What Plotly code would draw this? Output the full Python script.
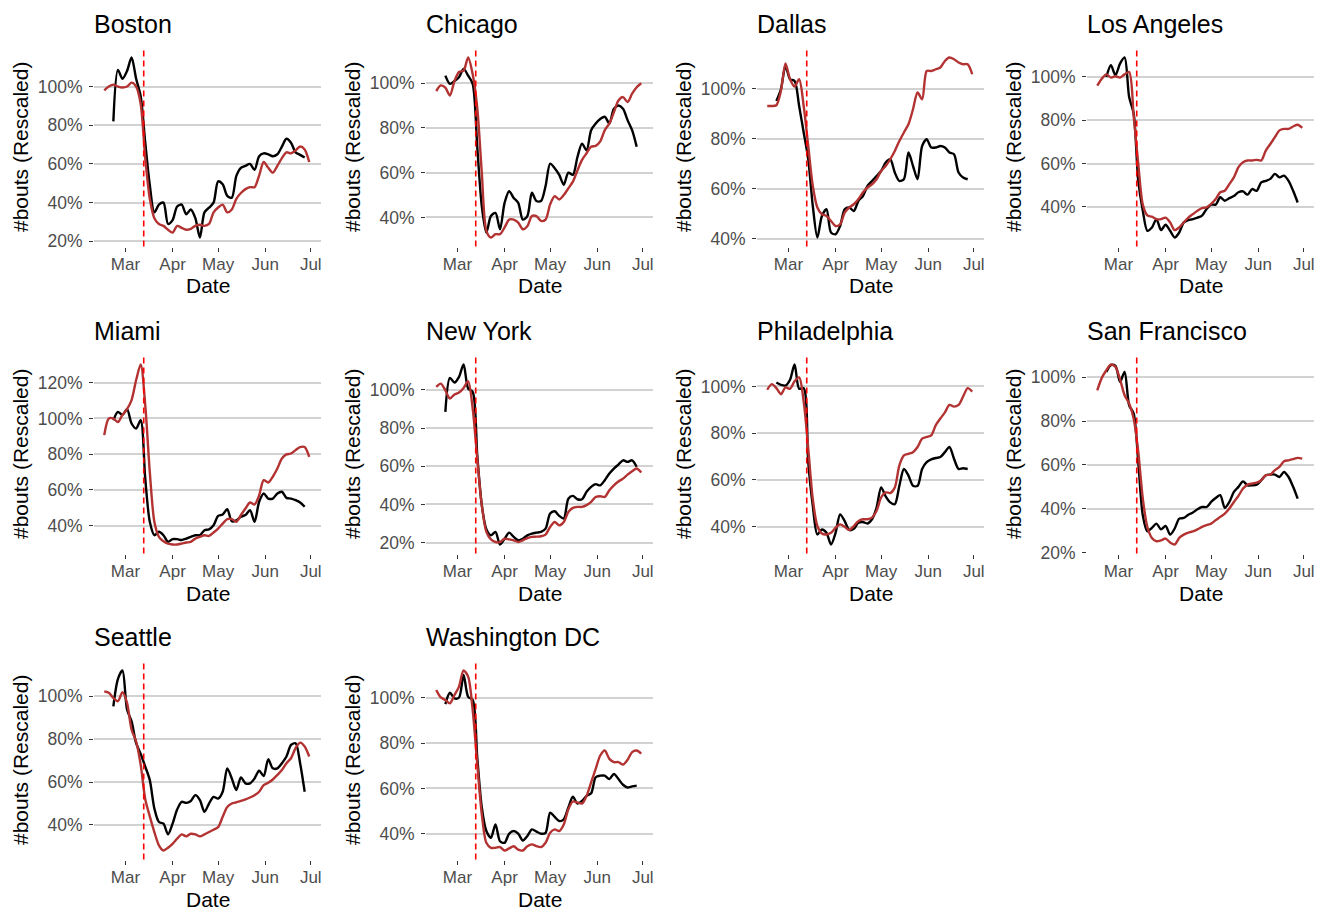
import pandas as pd
import plotly.graph_objects as go

# ---------------- data ----------------
DATES = pd.date_range("2020-02-16", periods=46, freq="3D")
VLINE_DATE = "2020-03-13"
MONTH_TICKS = ["2020-03-01", "2020-04-01", "2020-05-01", "2020-06-01", "2020-07-01"]
MONTH_LABELS = ["Mar", "Apr", "May", "Jun", "Jul"]

CITIES = ["Boston", "Chicago", "Dallas", "Los Angeles", "Miami",
          "New York", "Philadelphia", "San Francisco", "Seattle", "Washington DC"]

BOSTON_RED = [98, 100, 101, 100, 99.5, 100, 102, 100, 91, 63, 42, 32, 29, 28, 26, 24.5,
              28, 27, 26, 26.5, 28, 28.6, 28, 29, 35, 37.5, 39, 35, 36.5, 42, 45, 47,
              48, 48, 54, 61, 58, 55.5, 59, 63, 66, 65.5, 67, 69, 67.5, 61]
BOSTON_BLACK = [None, None, 82, 108.6, 104, 108, 115, 104, 95, 71, 49, 35, 39, 40, 29, 31,
                38, 39, 34, 36.5, 32, 22, 35, 37.4, 40, 51, 49.5, 43.5, 42.6, 53.8, 58, 59,
                60, 57, 64, 65.5, 65, 64, 65, 69, 73, 71, 66, 64.7, 63.3, None]

CHICAGO_RED = [96.5, 99, 98, 94.5, 101, 105, 105.6, 111.5, 104, 89, 60, 34, 31, 32.5, 32.5, 35.5,
               39, 39, 37.7, 34.7, 36, 40.6, 40.6, 38.4, 39, 45.8, 49.5, 48, 50, 53, 56, 61,
               65.7, 68.7, 71.6, 72, 74, 79, 82, 87, 92.3, 93.8, 91.6, 95.3, 98.2, 100]
CHICAGO_BLACK = [None, None, 103.4, 99.7, 101, 102.7, 106.4, 103.4, 99.7, 71.6, 45, 33.2, 40.6, 42, 34.7, 46.5,
                 51.7, 48.7, 46.5, 39, 40.6, 51, 47.3, 47.3, 54, 64, 62, 59, 54.6, 60, 59, 67,
                 73, 70, 79, 82, 84, 85, 82, 88.6, 90, 88.6, 83.5, 79, 71.6, None]

DALLAS_RED = [93, 93, 93.3, 99, 110, 103.7, 100.8, 103.7, 93, 77, 61, 52.4, 49.7, 49, 47, 45,
              45.7, 50.4, 52.4, 53.7, 55.7, 58.4, 60.4, 61.7, 63.7, 67, 69, 71.7, 75, 79, 82.4, 85.7,
              91.7, 98.4, 95.7, 107, 107, 107.7, 108.4, 111, 112.4, 111.7, 110.4, 109.7, 109.7, 105.7]
DALLAS_BLACK = [None, None, 95, 99.7, 109, 103.7, 103, 93, 82.4, 71.7, 53, 40.4, 49, 51.7, 42.4, 41.7,
                45, 51.7, 52.4, 51, 55, 57, 61, 63, 65, 67, 70.4, 71.7, 66.4, 63, 63.7, 74.4,
                69, 63.7, 77, 79.7, 76.4, 76.4, 77, 76.4, 74.4, 73.7, 66.4, 64.4, 63.7, None]

LA_RED = [96, 99.2, 101.2, 99.7, 100.3, 99.7, 101.2, 102.3, 82, 60, 41, 36, 35.4, 34.3, 34.3, 35,
          32.8, 29.2, 30.5, 32.8, 35, 36.6, 38.2, 39.4, 39.7, 41.3, 43.6, 46.7, 47.4, 50.5, 53.6, 58.3,
          60.6, 61.4, 61.4, 61.7, 61.4, 66, 69, 72.2, 75.3, 76, 76, 77.1, 77.9, 76.5]
LA_BLACK = [None, None, 100, 105.4, 100.8, 106.2, 109, 90.7, 83, 52, 38.2, 28.9, 30.4, 34.3, 29.2, 31.7,
            28.9, 25.8, 28.1, 32.8, 33.8, 34.3, 35, 35.9, 39, 41, 41, 44.4, 42.8, 44, 45, 46.7,
            47.1, 45.6, 48.2, 47.4, 51.3, 52, 52.9, 55.2, 53.6, 54.4, 52, 47.4, 42, None]

MIAMI_RED = [90.7, 100, 100, 98, 102, 105.2, 110.3, 121.5, 130.2, 107.5, 70, 42.2, 33.8, 31.3, 30, 29.5,
             29.5, 30, 30.6, 31, 32.8, 33.8, 34.7, 34.3, 36.2, 38.4, 41.2, 43.7, 43.7, 42.2, 46, 49.6,
             53, 51.9, 57, 65.5, 64.2, 67.4, 72, 77.6, 79.9, 80.4, 82.3, 84, 84, 78.5]
MIAMI_BLACK = [None, None, 99, 103.7, 102, 105.2, 97.2, 94.4, 99, 66.4, 42.2, 34.7, 36.6, 34.7, 31, 32.5,
               32.5, 32, 32.8, 33.8, 34.7, 34.7, 37.5, 38, 40.3, 45.5, 46.3, 49.3, 42.5, 43, 45, 46,
               48.7, 42.2, 53.4, 58, 55.2, 55.2, 58, 59, 55.6, 55.2, 54.3, 53, 50.6, None]

NEWYORK_RED = [101.6, 103.3, 99.8, 95.5, 97.6, 98.6, 101, 104.5, 90.2, 64, 39.6, 25.6, 21.7, 20.3, 20.3, 22,
               21.7, 21.2, 20.3, 21.2, 22.4, 23, 23.1, 23.3, 24.2, 28.2, 30.8, 29, 30.8, 36, 38.2, 38.7,
               38.7, 39.6, 41.3, 43.9, 44.3, 43.9, 47.4, 50, 52, 53.5, 55.6, 57.4, 58.8, 56.7]
NEWYORK_BLACK = [None, None, 88.5, 106.3, 103.8, 106.8, 113.3, 100.7, 99, 65.8, 39.6, 27, 23.8, 25.6, 19, 22,
                 25.2, 23, 21.2, 22, 23.8, 24.7, 25.2, 25.6, 27.3, 35.2, 36.4, 34, 32.6, 43, 44.5, 42.7,
                 42.7, 46.6, 49.2, 50.6, 50, 52.7, 56.2, 58.8, 60.9, 63.1, 62.3, 63.1, 59.7, None]

PHILLY_RED = [98.6, 101, 99.3, 96.7, 99.6, 99, 102.2, 103.9, 93.5, 73.4, 51.8, 40.3, 37.1, 36.7, 37.4, 39.6,
              41, 40, 38.6, 40.3, 42.4, 43.2, 43.2, 43.9, 46.8, 52.5, 54.7, 54.4, 56.8, 66.2, 70.5, 71.2,
              71.9, 74.1, 77.7, 78.4, 79.1, 83.5, 86.3, 88.9, 92.1, 91.4, 92.1, 95.7, 99.3, 97.8]
PHILLY_BLACK = [None, None, 101.7, 100.7, 100.4, 102.9, 109.4, 99, 99.3, 67.6, 48.9, 36.7, 38.8, 37.4, 32.4, 37.4,
                45.3, 42.4, 38.6, 39.1, 41.7, 42, 41.4, 43.2, 48.2, 56.8, 53, 50.4, 49.6, 57.5, 64.7, 61.9,
                57.5, 57.5, 64.7, 67.6, 68.8, 69.4, 69.8, 71.9, 74.1, 69.1, 64.7, 65, 64.7, None]

SF_RED = [94, 99.7, 103.2, 105.8, 104.7, 99, 91.8, 88, 81.1, 66, 44.6, 31.7, 26.7, 25.2, 25.6, 26.4,
          24.6, 23.7, 26.7, 28.2, 29.1, 29.7, 30.6, 31.7, 32.5, 33.2, 34.8, 36.3, 37.8, 40.1, 43.1, 45.9,
          49.2, 51, 51.5, 51.9, 53, 55.3, 55.6, 57.6, 59.1, 61.7, 62.1, 62.6, 63.2, 62.9]
SF_BLACK = [None, None, 102.4, 105.5, 105.2, 97.9, 102.4, 87.2, 83.4, 61.4, 37, 29.7, 31.3, 33.2, 30.6, 32.2,
            28.2, 31, 35.5, 35.8, 37.3, 38.3, 39.8, 40.8, 40.8, 43.1, 44.9, 46.2, 40.4, 43.1, 47.7, 50,
            52.5, 50.7, 50.7, 51, 53, 55.3, 55.6, 55.6, 54.5, 56.8, 54.5, 50, 44.6, None]

SEATTLE_RED = [102.3, 101.6, 99.2, 97.7, 101.9, 96.9, 84.4, 78.9, 68, 52, 44, 36.7, 30.5, 28.1, 29.4, 31.2,
               33.6, 35.6, 34.7, 35.9, 35.6, 34.7, 35.6, 36.7, 37.8, 39, 43.8, 48.4, 50, 50.6, 51.2, 51.9,
               52.8, 53.9, 55.5, 58.6, 59.7, 61.2, 63.3, 65.6, 68.8, 71.1, 75.8, 78.4, 76.6, 71.9]
SEATTLE_BLACK = [None, None, 95.3, 108, 112, 93.8, 88.3, 78.1, 73.1, 67.2, 60.9, 47.7, 41.4, 40.6, 35.6, 40.6,
                 47.2, 50.8, 50.3, 51.2, 53.9, 51.6, 46.1, 50, 53.1, 52.3, 55.5, 66.4, 61.7, 56.3, 62.2, 59.4,
                 59.4, 61.7, 65.3, 62.8, 70.6, 66.4, 66.4, 68.8, 71.9, 77.3, 78.1, 68.8, 55.5, None]

DC_RED = [103.4, 100.1, 99, 97.5, 101.2, 104.9, 112, 109.3, 94.5, 70.8, 48.6, 36, 33.8, 33.8, 34.1, 32.6,
          33.5, 34.5, 33, 32.6, 34.5, 35.3, 34.5, 34.1, 36, 40.4, 41.9, 41.2, 44.1, 50.8, 54.2, 53.8,
          53.3, 56.7, 62.7, 68.6, 74.5, 76.7, 73, 71.6, 71.6, 70.5, 72.6, 76, 76.7, 75.3]
DC_BLACK = [None, None, 97.2, 102.2, 99.7, 100.1, 110, 100.4, 99, 73.8, 51.6, 41.2, 38.2, 44.1, 36.7, 36,
            40, 41.2, 40, 37, 39, 41.9, 40.9, 40, 40.4, 49.3, 47.4, 45.6, 46.4, 51.6, 56.3, 53.3,
            54.5, 56.7, 57.8, 64.9, 65.6, 65.6, 64.1, 66.4, 64.1, 61.6, 60.4, 60.9, 61.2, None]

RED_SERIES = [BOSTON_RED, CHICAGO_RED, DALLAS_RED, LA_RED, MIAMI_RED,
              NEWYORK_RED, PHILLY_RED, SF_RED, SEATTLE_RED, DC_RED]
BLACK_SERIES = [BOSTON_BLACK, CHICAGO_BLACK, DALLAS_BLACK, LA_BLACK, MIAMI_BLACK,
                NEWYORK_BLACK, PHILLY_BLACK, SF_BLACK, SEATTLE_BLACK, DC_BLACK]

# ---------------- layout / style ----------------
W, H = 1328, 914
COL_X = [94, 426, 757, 1087]
ROW_Y = [48.5, 355.5, 661.5]
PW, PH = 227, 198
FONT = "Liberation Sans, Arial, Helvetica, sans-serif"
RED = "#B33232"
BLACK = "#000000"
GRID = "#D2D2D2"

fig = go.Figure()

d0, d1 = DATES.min(), DATES.max()
pad = (d1 - d0) * 0.05
x_range = [d0 - pad, d1 + pad + pd.Timedelta(days=1)]

annotations = []
shapes = []
layout = {}
for i, city in enumerate(CITIES):
    r, c = divmod(i, 4)
    n = "" if i == 0 else str(i + 1)
    left = COL_X[c]
    top = ROW_Y[r]
    xdom = [left / W, (left + PW) / W]
    ydom = [1 - (top + PH) / H, 1 - top / H]

    blk = BLACK_SERIES[i]
    red = RED_SERIES[i]
    vals = [v for v in blk + red if v is not None]
    lo, hi = min(vals), max(vals)
    sp = hi - lo
    y_range = [lo - 0.05 * sp, hi + 0.05 * sp]

    fig.add_trace(go.Scatter(x=DATES, y=blk, mode="lines",
                             line=dict(color=BLACK, width=2.4, shape="spline", smoothing=0.8),
                             xaxis="x" + n, yaxis="y" + n, showlegend=False, connectgaps=False))
    fig.add_trace(go.Scatter(x=DATES, y=red, mode="lines",
                             line=dict(color=RED, width=2.4, shape="spline", smoothing=0.8),
                             xaxis="x" + n, yaxis="y" + n, showlegend=False, connectgaps=False))

    layout["xaxis" + n] = dict(
        domain=xdom, anchor="y" + n, type="date", range=x_range,
        tickvals=MONTH_TICKS, ticktext=MONTH_LABELS,
        showgrid=False, zeroline=False, showline=False,
        ticks="outside", ticklen=4, tickwidth=1.4, tickcolor="#333333",
        ticklabelstandoff=-2, automargin=False,
        tickfont=dict(family=FONT, size=17, color="#4D4D4D"),
    )
    layout["yaxis" + n] = dict(
        domain=ydom, anchor="x" + n, range=y_range,
        tick0=0, dtick=20, ticksuffix="%",
        showgrid=True, gridcolor=GRID, gridwidth=1.6,
        zeroline=False, showline=False,
        ticks="outside", ticklen=4, tickwidth=1.4, tickcolor="#333333",
        ticklabelstandoff=3, automargin=False,
        tickfont=dict(family=FONT, size=17.5, color="#4D4D4D"),
    )

    shapes.append(dict(type="line", xref="x" + n, yref="y" + n + " domain",
                       x0=VLINE_DATE, x1=VLINE_DATE, y0=0, y1=1,
                       line=dict(color="#FF0000", width=1.6, dash="6px,4px"), layer="above"))

    annotations.append(dict(text=city, x=(left - 2) / W, y=1 - (top - 24.5) / H, xref="paper", yref="paper",
                            xanchor="left", yanchor="middle", showarrow=False,
                            font=dict(family=FONT, size=25, color="#000000")))
    annotations.append(dict(text="Date", x=(left + PW / 2) / W, y=1 - (top + PH + 39.5) / H,
                            xref="paper", yref="paper", xanchor="center", yanchor="middle",
                            showarrow=False, font=dict(family=FONT, size=21, color="#000000")))
    annotations.append(dict(text="#bouts (Rescaled)", x=(left - 73.5) / W, y=1 - (top + PH / 2) / H,
                            xref="paper", yref="paper", xanchor="center", yanchor="middle",
                            textangle=-90, showarrow=False,
                            font=dict(family=FONT, size=21, color="#000000")))

fig.update_layout(
    width=W, height=H, autosize=False,
    margin=dict(l=0, r=0, t=0, b=0, autoexpand=False),
    paper_bgcolor="white", plot_bgcolor="white",
    showlegend=False,
    annotations=annotations, shapes=shapes,
    font=dict(family=FONT),
    **layout,
)

fig.write_html("out.html")
